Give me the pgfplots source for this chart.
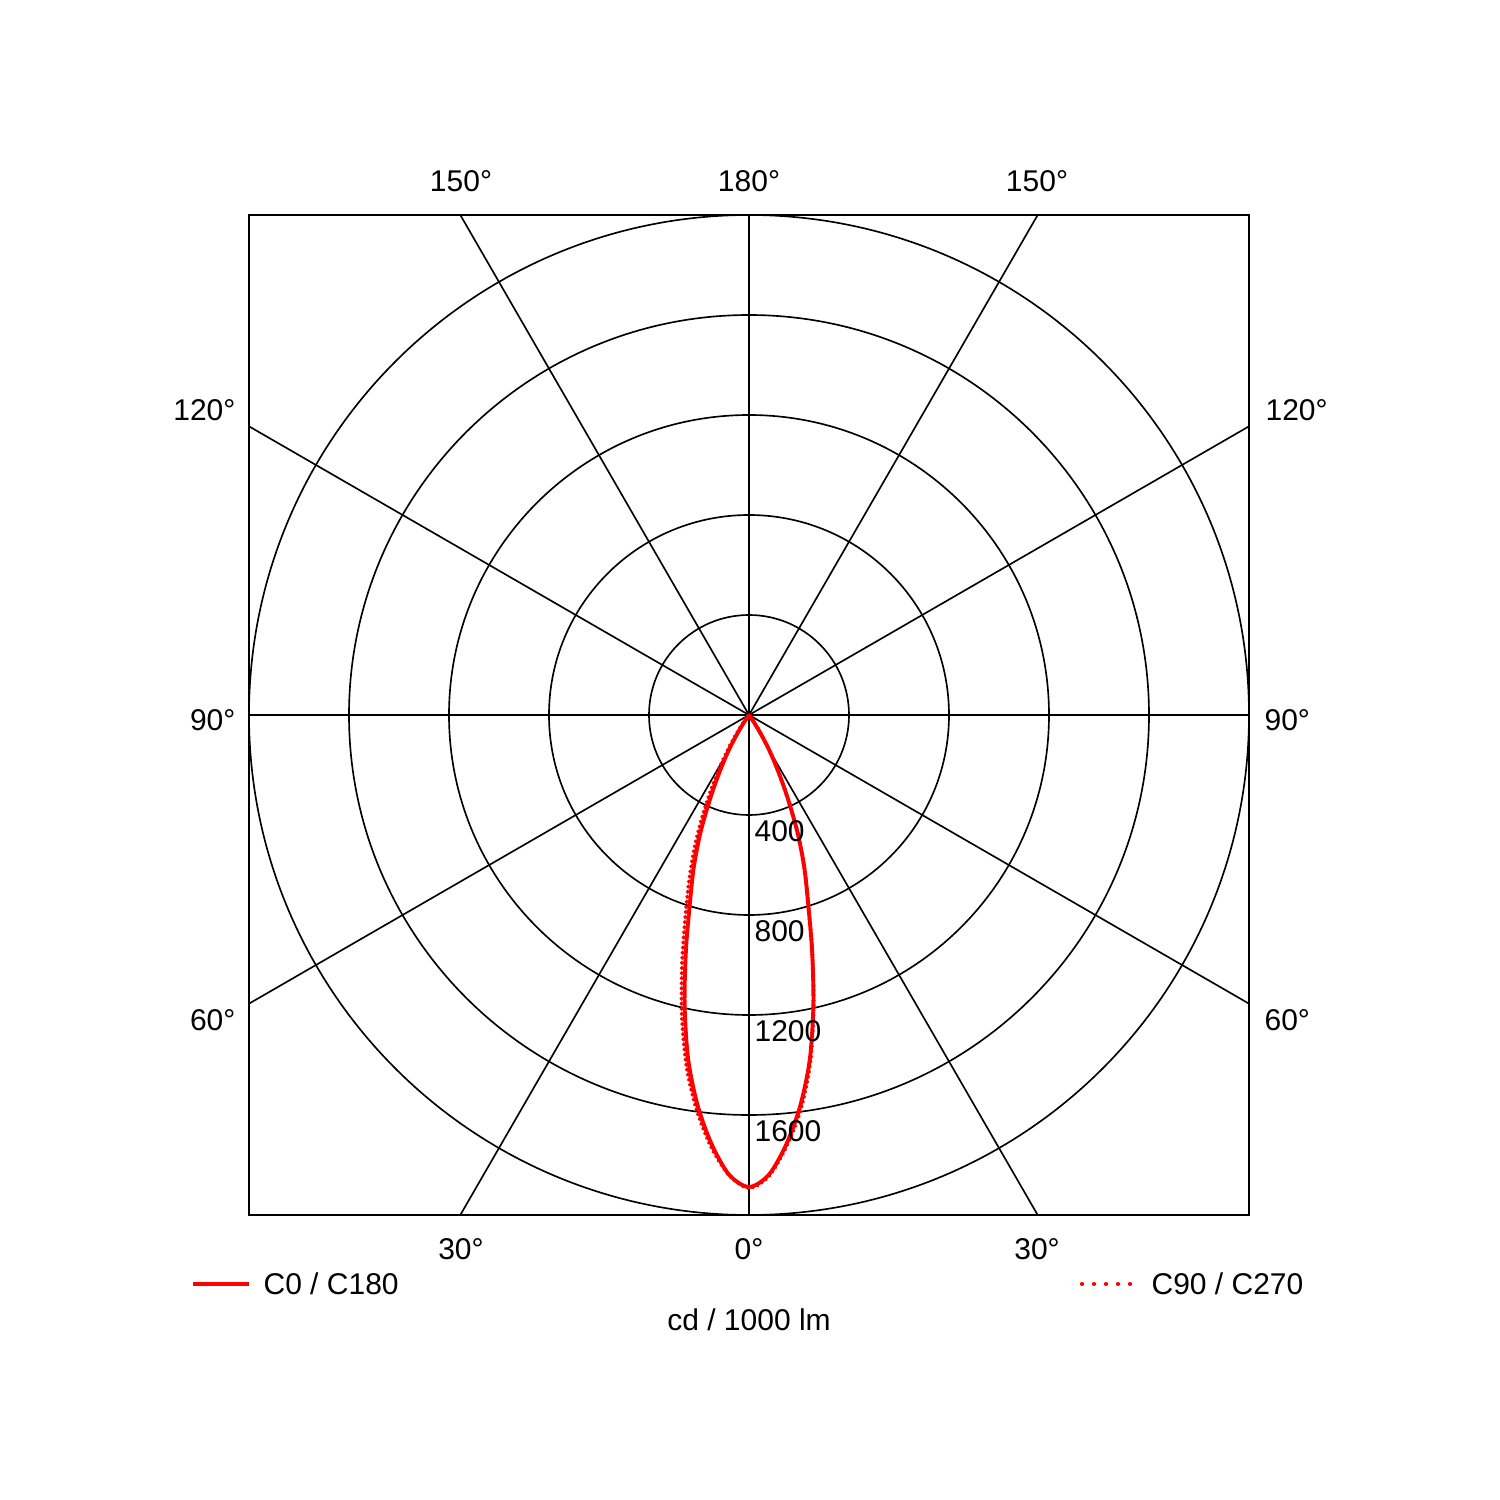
\documentclass[border=0pt]{standalone}
\usepackage{pgfplots}
\pgfplotsset{compat=1.18}
\usepackage{pgfplotstable}
\usepackage{fontspec}
\setmainfont{Liberation Sans}

% C0 / C180 : angle (deg, negative = left half), intensity cd/1000 lm
\pgfplotstableread{
a cd
-40 0
-37.5 5
-35 25
-32.5 80
-30 160
-27.5 250
-25 365
-22.5 505
-20 645
-17.5 785
-15 975
-12.5 1190
-10 1400
-7.5 1575
-5 1722
-2.5 1840
0 1888
2.5 1840
5 1722
7.5 1575
10 1400
12.5 1190
15 975
17.5 785
20 645
22.5 505
25 365
27.5 250
30 160
32.5 80
35 25
37.5 5
40 0
}\solidtab

% C90 / C270
\pgfplotstableread{
a cd
-40 0
-37.5 15
-35 60
-32.5 130
-30 211
-27.5 310
-25 432
-22.5 565
-20 698
-17.5 848
-15 1036
-12.5 1240
-10 1434
-7.5 1597
-5 1735
-2.5 1842
0 1892
2.5 1845
5 1730
7.5 1590
10 1412
12.5 1194
15 975
17.5 785
20 645
22.5 505
25 365
27.5 250
30 160
32.5 80
35 25
37.5 5
40 0
}\dottab

\begin{document}
\begin{tikzpicture}
\begin{axis}[
  width=333.333pt, height=333.333pt, scale only axis,
  xmin=-2000, xmax=2000, ymin=-2000, ymax=2000,
  xtick=\empty, ytick=\empty,
  axis line style={line width=0.75pt, black},
  clip=false,
]
% bounding box (page)
\path (axis cs:-2996,-3140) rectangle (axis cs:3004,2860);
% grid circles
\draw[line width=0.55pt] (axis cs:0,0) circle[radius=400];
\draw[line width=0.55pt] (axis cs:0,0) circle[radius=800];
\draw[line width=0.55pt] (axis cs:0,0) circle[radius=1200];
\draw[line width=0.55pt] (axis cs:0,0) circle[radius=1600];
\draw[line width=0.55pt] (axis cs:0,0) circle[radius=2000];
% spokes
\draw[line width=0.55pt] (axis cs:0,-2000) -- (axis cs:0,2000);
\draw[line width=0.55pt] (axis cs:-2000,0) -- (axis cs:2000,0);
\draw[line width=0.55pt] (axis cs:-1154.7,-2000) -- (axis cs:1154.7,2000);
\draw[line width=0.55pt] (axis cs:1154.7,-2000) -- (axis cs:-1154.7,2000);
\draw[line width=0.55pt] (axis cs:-2000,-1154.7) -- (axis cs:2000,1154.7);
\draw[line width=0.55pt] (axis cs:2000,-1154.7) -- (axis cs:-2000,1154.7);

% curves
\addplot[red, line width=1.3pt, smooth, line cap=round, dash pattern=on 0.2pt off 1.5pt]
  table[x expr={\thisrow{cd}*sin(\thisrow{a})}, y expr={-\thisrow{cd}*cos(\thisrow{a})}] {\dottab};
\addplot[red, line width=1.3pt, smooth]
  table[x expr={\thisrow{cd}*sin(\thisrow{a})}, y expr={-\thisrow{cd}*cos(\thisrow{a})}] {\solidtab};

% angle labels
\node[inner sep=0] at (axis cs:0,2136) {180°};
\node[inner sep=0] at (axis cs:-1152,2136) {150°};
\node[inner sep=0] at (axis cs:1152,2136) {150°};
\node[inner sep=0] at (axis cs:0,-2136) {0°};
\node[inner sep=0] at (axis cs:-1152,-2136) {30°};
\node[inner sep=0] at (axis cs:1152,-2136) {30°};
\node[inner sep=0, anchor=east] at (axis cs:-2052,1220) {120°};
\node[inner sep=0, anchor=east] at (axis cs:-2052,-20) {90°};
\node[inner sep=0, anchor=east] at (axis cs:-2052,-1220) {60°};
\node[inner sep=0, anchor=west] at (axis cs:2064,1220) {120°};
\node[inner sep=0, anchor=west] at (axis cs:2060,-20) {90°};
\node[inner sep=0, anchor=west] at (axis cs:2060,-1220) {60°};
% ring labels
\node[inner sep=0, anchor=west] at (axis cs:20,-464) {400};
\node[inner sep=0, anchor=west] at (axis cs:20,-864) {800};
\node[inner sep=0, anchor=west] at (axis cs:20,-1264) {1200};
\node[inner sep=0, anchor=west] at (axis cs:20,-1664) {1600};
% legend
\draw[red, line width=1.3pt] (axis cs:-2224,-2276) -- (axis cs:-2000,-2276);
\node[inner sep=0, anchor=west] at (axis cs:-1944,-2276) {C0 / C180};
\draw[red, line width=1.4pt, line cap=round, dash pattern=on 0.01pt off 3.99pt] (axis cs:1332,-2276) -- (axis cs:1526,-2276);
\node[inner sep=0, anchor=west] at (axis cs:1608,-2276) {C90 / C270};
\node[inner sep=0] at (axis cs:0,-2420) {cd / 1000 lm};
\end{axis}
\end{tikzpicture}
\end{document}
